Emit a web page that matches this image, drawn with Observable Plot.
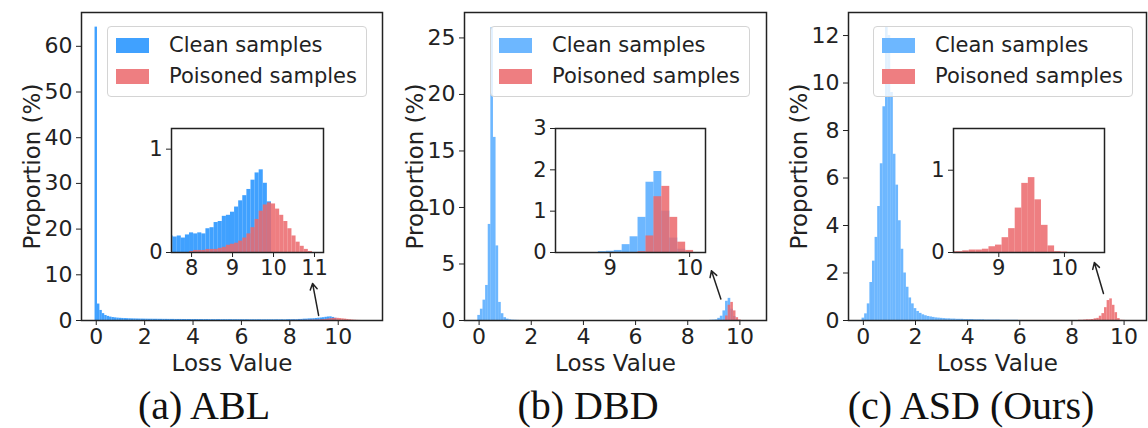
<!DOCTYPE html>
<html><head><meta charset="utf-8">
<script src="https://cdn.jsdelivr.net/npm/d3@7"></script>
<script src="https://cdn.jsdelivr.net/npm/@observablehq/plot@0.6"></script>
<style>
body{margin:0;background:#fff;}
#root{position:relative;width:1148px;height:428px;overflow:hidden;font-family:"DejaVu Sans",sans-serif;background:#fff;}
.layer{position:absolute;}
.layer svg{display:block;overflow:visible;max-width:none;}
.legend{position:absolute;box-sizing:border-box;width:260px;height:71px;border:1px solid #d4d4d4;border-radius:4px;background:rgba(255,255,255,0.8);}
.sw{position:absolute;left:8px;width:33px;height:15px;}
.lt{position:absolute;left:61px;font-family:"DejaVu Sans",sans-serif;font-size:21px;color:#222;white-space:nowrap;line-height:21px;}
.cap{position:absolute;width:320px;text-align:center;font-family:"Liberation Serif","Times New Roman",serif;font-size:40px;line-height:40px;color:#111;white-space:nowrap;}
</style></head>
<body><div id="root"></div>
<script>
// ---------------- data (bin width 0.1, values are % proportions) ----------------
const BIN = 0.1;
const seriesNames = ["Clean samples", "Poisoned samples"];
const captions = ["(a) ABL", "(b) DBD", "(c) ASD (Ours)"];
const xLabel = "Loss Value";
const yLabel = "Proportion (%)";
const mainXTicks = [0, 2, 4, 6, 8, 10];
const ablYTicks = [0, 10, 20, 30, 40, 50, 60];
const dbdYTicks = [0, 5, 10, 15, 20, 25];
const asdYTicks = [0, 2, 4, 6, 8, 10, 12];
const ablInsetXTicks = [8, 9, 10, 11];
const dbdInsetXTicks = [9, 10];
const asdInsetXTicks = [9, 10];
const ablInsetYTicks = [0, 1];
const dbdInsetYTicks = [0, 1, 2, 3];
const asdInsetYTicks = [0, 1];

// (a) ABL — clean, bins centred from 0.0
const ablCleanStart = 0.0;
const ablClean = [
  64.2, 3.6, 2.2, 1.5, 1.1, 0.9, 0.75, 0.65, 0.58, 0.52,
  0.48, 0.45, 0.42, 0.40, 0.38, 0.36, 0.35, 0.33, 0.32, 0.31,
  0.30, 0.29, 0.28, 0.28, 0.27, 0.27, 0.26, 0.26, 0.25, 0.25,
  0.24, 0.24, 0.24, 0.23, 0.23, 0.23, 0.22, 0.22, 0.22, 0.21,
  0.21, 0.21, 0.21, 0.20, 0.20, 0.20, 0.20, 0.19, 0.19, 0.19,
  0.19, 0.19, 0.18, 0.18, 0.18, 0.18, 0.18, 0.17, 0.17, 0.17,
  0.17, 0.17, 0.17, 0.16, 0.16, 0.16, 0.16, 0.16, 0.16, 0.15,
  0.15, 0.16, 0.15, 0.16, 0.15, 0.16, 0.15, 0.16, 0.14, 0.17,
  0.19, 0.18, 0.19, 0.18, 0.23, 0.24, 0.29, 0.30, 0.35, 0.36,
  0.39, 0.44, 0.50, 0.55, 0.61, 0.70, 0.77, 0.80, 0.67, 0.49
];
// (a) ABL — poisoned, bins centred from 8.0
const ablPoisonStart = 8.0;
const ablPoison = [
  0.01, 0.02, 0.02, 0.02, 0.03, 0.03, 0.03, 0.04, 0.05, 0.07,
  0.08, 0.09, 0.11, 0.14, 0.18, 0.24, 0.32, 0.40, 0.46, 0.48,
  0.47, 0.42, 0.36, 0.30, 0.23, 0.16, 0.10, 0.06, 0.03, 0.01
];

// (b) DBD
const dbdCleanLowStart = 0.0;
const dbdCleanLow = [0.45, 1.0, 1.8, 3.1, 8.5, 25.9, 16.2, 6.6, 1.6, 0.6, 0.25, 0.12, 0.06, 0.03, 0.02, 0.01];
const dbdCleanHighStart = 8.9;
const dbdCleanHigh = [0.02, 0.03, 0.05, 0.19, 0.38, 0.85, 1.7, 1.96, 1.0, 0.35, 0.08];
const dbdPoisonStart = 9.4;
const dbdPoison = [0.02, 0.4, 1.35, 1.6, 0.85, 0.25, 0.05];

// (c) ASD
const asdCleanStart = 0.0;
const asdClean = [
  0.1, 0.28, 0.7, 1.6, 2.5, 3.5, 4.8, 6.6, 9.0, 12.35,
  12.0, 9.6, 7.0, 5.7, 4.2, 3.0, 2.0, 1.4, 0.95, 0.7,
  0.5, 0.38, 0.3, 0.24, 0.2, 0.17, 0.15, 0.13, 0.11, 0.1,
  0.09, 0.08, 0.07, 0.07, 0.06, 0.06, 0.05, 0.05, 0.05, 0.04,
  0.04, 0.04, 0.04, 0.03, 0.03, 0.03, 0.03, 0.02, 0.02, 0.02,
  0.02, 0.02, 0.02, 0.01, 0.01, 0.01, 0.01, 0.01, 0.01, 0.01
];
const asdPoisonStart = 8.3;
const asdPoison = [0.01, 0.01, 0.02, 0.03, 0.03, 0.04, 0.07, 0.09, 0.18, 0.29, 0.54, 0.84, 0.91, 0.64, 0.33, 0.08, 0.01, 0.005];

// annotation arrows (data units of each main panel): tail -> head
const ablArrow = [{x1: 9.19, y1: 1.1, x2: 8.94, y2: 8.1}];
const dbdArrow = [{x1: 9.27, y1: 1.9, x2: 8.91, y2: 4.4}];
const asdArrow = [{x1: 9.21, y1: 1.14, x2: 8.86, y2: 2.44}];

// ---------------- helpers ----------------
function bars(start, values) {
  return values.map((v, i) => {
    const c = start + i * BIN;
    return {x1: c - BIN / 2, x2: c + BIN / 2, y: v};
  });
}

const RED = "#eb696c", RED_OP = 0.86;
const panels = [
  {
    left: 0, width: 384, mL: 81, mR: 2,
    xDomain: [-0.61, 11.83], yDomain: [0, 67.4], yTicks: ablYTicks,
    blue: "#1e90ff", blueOp: 0.85,
    clean: bars(ablCleanStart, ablClean),
    poison: bars(ablPoisonStart, ablPoison),
    arrow: ablArrow,
    inset: {box: [171, 128, 323, 252], xDomain: [7.51, 11.22], xTicks: ablInsetXTicks, yDomain: [0, 1.2], yTicks: ablInsetYTicks},
    capX: 204
  },
  {
    left: 383, width: 385, mL: 81, mR: 2,
    xDomain: [-0.56, 11.02], yDomain: [0, 27.25], yTicks: dbdYTicks,
    blue: "#1e90ff", blueOp: 0.65,
    clean: bars(dbdCleanLowStart, dbdCleanLow).concat(bars(dbdCleanHighStart, dbdCleanHigh)),
    poison: bars(dbdPoisonStart, dbdPoison),
    arrow: dbdArrow,
    inset: {box: [555, 128, 705, 252], xDomain: [8.31, 10.2], xTicks: dbdInsetXTicks, yDomain: [0, 3], yTicks: dbdInsetYTicks},
    capX: 588
  },
  {
    left: 766, width: 382, mL: 82, mR: 2,
    xDomain: [-0.57, 10.86], yDomain: [0, 12.97], yTicks: asdYTicks,
    blue: "#1e90ff", blueOp: 0.65,
    clean: bars(asdCleanStart, asdClean),
    poison: bars(asdPoisonStart, asdPoison),
    arrow: asdArrow,
    inset: {box: [953, 128, 1104, 252], xDomain: [8.31, 10.61], xTicks: asdInsetXTicks, yDomain: [0, 1.507], yTicks: asdInsetYTicks},
    capX: 971
  }
];

const root = document.getElementById("root");
function place(node, left, top) {
  const d = document.createElement("div");
  d.className = "layer";
  d.style.left = left + "px";
  d.style.top = top + "px";
  d.appendChild(node);
  root.appendChild(d);
  return d;
}

const INK = "#222";
panels.forEach((p, i) => {
  // main chart
  const main = Plot.plot({
    width: p.width, height: 380,
    marginLeft: p.mL, marginRight: p.mR, marginTop: 12, marginBottom: 60,
    style: {fontFamily: "DejaVu Sans", fontSize: "22px", color: INK, background: "transparent", overflow: "visible"},
    x: {domain: p.xDomain},
    y: {domain: p.yDomain},
    marks: [
      Plot.rectY(p.clean, {x1: "x1", x2: "x2", y: "y", fill: p.blue, fillOpacity: p.blueOp}),
      Plot.rectY(p.poison, {x1: "x1", x2: "x2", y: "y", fill: RED, fillOpacity: RED_OP}),
      Plot.axisX({ticks: mainXTicks, tickSize: 5, tickPadding: 3, tickFormat: d3.format("d"), label: null, fontSize: 22, stroke: INK, fill: INK}),
      Plot.axisY({ticks: p.yTicks, tickSize: 5, tickPadding: 4, tickFormat: d3.format("d"), label: null, fontSize: 22, stroke: INK, fill: INK}),
      Plot.text([xLabel], {frameAnchor: "bottom", dy: 43, text: d => d, textAnchor: "middle", lineAnchor: "middle", fontSize: 23, fill: INK}),
      Plot.text([yLabel], {frameAnchor: "left", dx: -49, rotate: -90, text: d => d, textAnchor: "middle", lineAnchor: "middle", fontSize: 23, fill: INK}),
      Plot.frame({stroke: INK, strokeWidth: 1.5}),
      Plot.arrow(p.arrow, {x1: "x1", y1: "y1", x2: "x2", y2: "y2", stroke: INK, strokeWidth: 1.5, headLength: 7})
    ]
  });
  place(main, p.left, 0);

  // inset
  const b = p.inset.box;
  const iL = 46, iR = 14, iT = 12, iB = 34;
  const inset = Plot.plot({
    width: (b[2] - b[0]) + iL + iR, height: (b[3] - b[1]) + iT + iB,
    marginLeft: iL, marginRight: iR, marginTop: iT, marginBottom: iB,
    style: {fontFamily: "DejaVu Sans", fontSize: "21px", color: INK, background: "transparent", overflow: "visible"},
    x: {domain: p.inset.xDomain},
    y: {domain: p.inset.yDomain},
    marks: [
      Plot.frame({fill: "white"}),
      Plot.rectY(p.clean, {x1: "x1", x2: "x2", y: "y", fill: p.blue, fillOpacity: p.blueOp, clip: true}),
      Plot.rectY(p.poison, {x1: "x1", x2: "x2", y: "y", fill: RED, fillOpacity: RED_OP, clip: true}),
      Plot.axisX({ticks: p.inset.xTicks, tickSize: 5, tickPadding: 3, tickFormat: d3.format("d"), label: null, fontSize: 21, stroke: INK, fill: INK}),
      Plot.axisY({ticks: p.inset.yTicks, tickSize: 5, tickPadding: 4, tickFormat: d3.format("d"), label: null, fontSize: 21, stroke: INK, fill: INK}),
      Plot.frame({stroke: INK, strokeWidth: 1.5})
    ]
  });
  place(inset, b[0] - iL, b[1] - iT);

  // legend
  const lg = document.createElement("div");
  lg.className = "legend";
  lg.style.left = (p.left + 107) + "px";
  lg.style.top = "26px";
  const mix = (c, a) => Math.round(255 - a * (255 - c));
  const sw = (col, a) => { const c = d3.rgb(col); return `rgb(${mix(c.r, a)},${mix(c.g, a)},${mix(c.b, a)})`; };
  lg.innerHTML =
    `<div class="sw" style="top:11px;background:${sw(p.blue, p.blueOp)}"></div>` +
    `<div class="lt" style="top:8px">${seriesNames[0]}</div>` +
    `<div class="sw" style="top:42px;background:${sw(RED, RED_OP)}"></div>` +
    `<div class="lt" style="top:39px">${seriesNames[1]}</div>`;
  root.appendChild(lg);

  // caption
  const cap = document.createElement("div");
  cap.className = "cap";
  cap.style.left = (p.capX - 160) + "px";
  cap.style.top = "386px";
  cap.textContent = captions[i];
  root.appendChild(cap);
});
</script>
</body></html>
